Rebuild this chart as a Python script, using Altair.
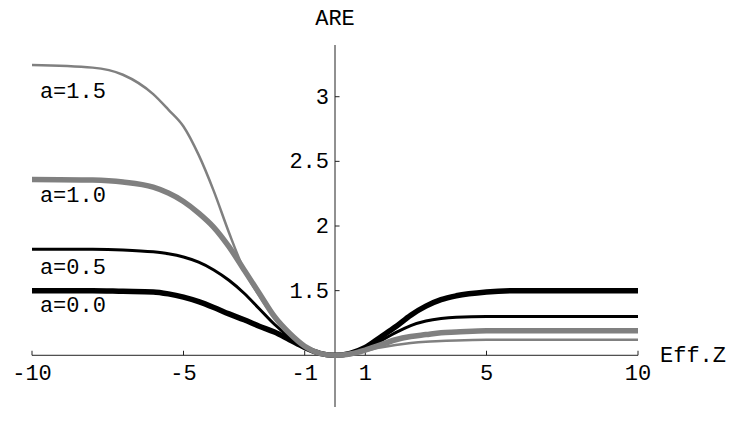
import altair as alt
import pandas as pd

# ---- data ----
x_vals = [-10, -8, -7, -6, -5.5, -5, -4.5, -4, -3.5, -3, -2.5, -2, -1.5, -1, -0.5,
          0, 0.5, 1, 1.5, 2, 2.5, 3, 3.5, 4, 5, 6, 7, 8, 10]
are_a00 = [1.50, 1.50, 1.495, 1.49, 1.475, 1.45, 1.415, 1.37, 1.32, 1.275, 1.225, 1.18, 1.12, 1.06, 1.015,
           1.0, 1.015, 1.06, 1.14, 1.22, 1.31, 1.38, 1.43, 1.46, 1.49, 1.50, 1.50, 1.50, 1.50]
are_a05 = [1.82, 1.82, 1.815, 1.80, 1.785, 1.76, 1.72, 1.66, 1.58, 1.48, 1.36, 1.24, 1.14, 1.06, 1.015,
           1.0, 1.015, 1.05, 1.11, 1.175, 1.23, 1.265, 1.285, 1.295, 1.30, 1.30, 1.30, 1.30, 1.30]
are_a10 = [2.36, 2.355, 2.34, 2.30, 2.255, 2.19, 2.10, 1.99, 1.84, 1.66, 1.48, 1.30, 1.17, 1.07, 1.015,
           1.0, 1.01, 1.04, 1.08, 1.12, 1.145, 1.16, 1.175, 1.18, 1.19, 1.19, 1.19, 1.19, 1.19]
are_a15 = [3.245, 3.225, 3.17, 3.02, 2.90, 2.77, 2.55, 2.27, 1.95, 1.66, 1.46, 1.29, 1.16, 1.07, 1.015,
           1.0, 1.01, 1.035, 1.06, 1.08, 1.095, 1.105, 1.11, 1.115, 1.12, 1.12, 1.12, 1.12, 1.12]

series_names = ["a=0.0", "a=0.5", "a=1.0", "a=1.5"]
series_values = [are_a00, are_a05, are_a10, are_a15]
series_colors = ["#000000", "#000000", "#808080", "#808080"]
series_widths = [5.5, 3, 5.5, 2.5]

label_x = -9.74
label_y = [1.335, 1.629, 2.186, 2.99]

x_ticks = [-10, -5, -1, 1, 5, 10]
y_ticks = [1.5, 2, 2.5, 3]
y_tick_text = ["1.5", "2", "2.5", "3"]

x_domain = [-10, 10]
y_domain = [0.6, 3.4]
FONT = "Liberation Mono"
FS = 22
axis_color = "#222222"

xs = alt.Scale(domain=x_domain, nice=False, zero=False)
ys = alt.Scale(domain=y_domain, nice=False, zero=False)
X = lambda f="x": alt.X(f + ":Q", scale=xs, axis=None)
Y = lambda f="y": alt.Y(f + ":Q", scale=ys, axis=None)

layers = []

# axes lines
layers.append(alt.Chart(pd.DataFrame({"x": [x_domain[0]], "x2": [x_domain[1]], "y": [1.0]})).mark_rule(
    color=axis_color, strokeWidth=1).encode(x=X(), x2="x2:Q", y=Y()))
layers.append(alt.Chart(pd.DataFrame({"x": [0.0], "y": [y_domain[0]], "y2": [y_domain[1]]})).mark_rule(
    color=axis_color, strokeWidth=1).encode(x=X(), y=Y(), y2="y2:Q"))

# tick marks (short rules)
xt_df = pd.DataFrame({"x": x_ticks, "t": [str(v) for v in x_ticks]})
layers.append(alt.Chart(xt_df).transform_calculate(y="1.0", y2="1.0 + 0.035").mark_rule(
    color=axis_color, strokeWidth=1).encode(x=X(), y=Y(), y2="y2:Q"))
yt_df = pd.DataFrame({"y": y_ticks, "t": y_tick_text})
layers.append(alt.Chart(yt_df).transform_calculate(x="0", x2="0.15").mark_rule(
    color=axis_color, strokeWidth=1).encode(x=X(), x2="x2:Q", y=Y()))

# curves
for name, vals, col, w in zip(series_names, series_values, series_colors, series_widths):
    d = pd.DataFrame({"x": x_vals, "y": vals})
    layers.append(alt.Chart(d).mark_line(interpolate="monotone", color=col, strokeWidth=w, strokeCap="butt").encode(
        x=X(), y=Y()))

# curve labels
layers.append(alt.Chart(pd.DataFrame({"x": [label_x] * 4, "y": label_y, "t": series_names})).mark_text(
    align="left", baseline="alphabetic", font=FONT, fontSize=FS, color="black").encode(x=X(), y=Y(), text="t:N"))

# tick labels
layers.append(alt.Chart(xt_df).transform_calculate(y="1.0").mark_text(
    baseline="alphabetic", dy=25, font=FONT, fontSize=FS, color="black").encode(x=X(), y=Y(), text="t:N"))
layers.append(alt.Chart(yt_df).transform_calculate(x="0").mark_text(
    align="right", baseline="middle", dx=-6, font=FONT, fontSize=FS, color="black").encode(x=X(), y=Y(), text="t:N"))

# axis titles
layers.append(alt.Chart(pd.DataFrame({"x": [0.0], "y": [y_domain[1]], "t": ["ARE"]})).mark_text(
    align="center", baseline="alphabetic", dy=-20, font=FONT, fontSize=FS, color="black").encode(x=X(), y=Y(), text="t:N"))
layers.append(alt.Chart(pd.DataFrame({"x": [x_domain[1]], "y": [1.0], "t": ["Eff.Z"]})).mark_text(
    align="left", baseline="middle", dx=22, font=FONT, fontSize=FS, color="black").encode(x=X(), y=Y(), text="t:N"))

chart = alt.layer(*layers).properties(
    width=606, height=362,
    autosize=alt.AutoSizeParams(type="none"),
    padding={"left": 24, "top": 37, "right": 89, "bottom": 0},
).configure_view(strokeWidth=0)

chart.save("out.html", embed_options={"renderer": "svg", "actions": False})
